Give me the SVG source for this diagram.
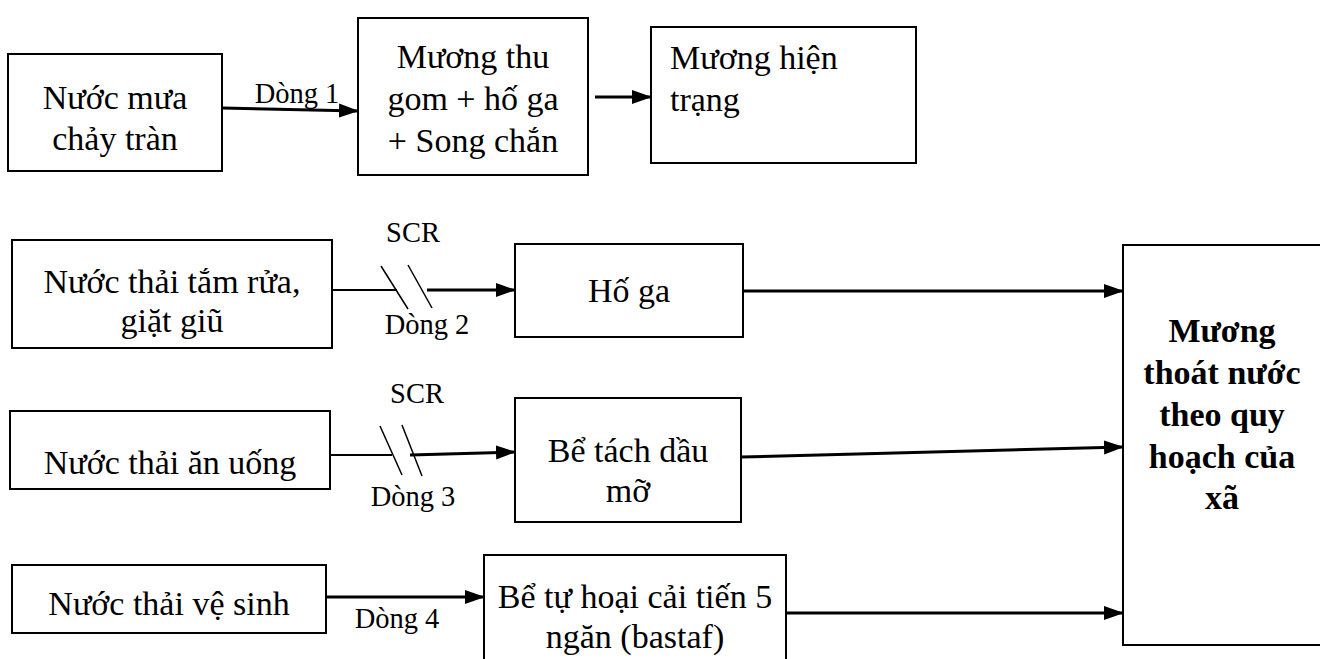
<svg xmlns="http://www.w3.org/2000/svg" width="1320" height="659" viewBox="0 0 1320 659">
<style>
text{font-family:'Liberation Serif','DejaVu Serif',serif;fill:#000}
.t{font-size:34px;text-anchor:middle}
.tl{font-size:34px}
.lb{font-size:28.5px;text-anchor:middle}
.b{font-size:34px;font-weight:bold;text-anchor:middle}
.box{fill:#fff;stroke:#000;stroke-width:2}
.ln{fill:none;stroke:#000;stroke-width:2}
.lt{fill:none;stroke:#000;stroke-width:3}
.sl{fill:none;stroke:#000;stroke-width:1.5}
</style>
<defs>
<marker id="ah" markerUnits="userSpaceOnUse" markerWidth="20" markerHeight="16" refX="19" refY="7" orient="auto" viewBox="0 0 20 14">
<path d="M0,0 L20,7 L0,14 z" fill="#000"/>
</marker>
</defs>
<rect width="1320" height="659" fill="#fff"/>

<g id="n-nuoc-mua">
<rect class="box" x="8" y="54" width="214" height="117"/>
<text class="t" x="115" y="109">Nước mưa</text>
<text class="t" x="115" y="150">chảy tràn</text>
</g>
<g id="n-muong-thu-gom">
<rect class="box" x="358" y="18" width="230" height="157"/>
<text class="t" x="473" y="68">Mương thu</text>
<text class="t" x="473" y="110">gom + hố ga</text>
<text class="t" x="473" y="152">+ Song chắn</text>
</g>
<g id="n-muong-hien-trang">
<rect class="box" x="651" y="27" width="265" height="136"/>
<text class="tl" x="670" y="69">Mương hiện</text>
<text class="tl" x="670" y="111">trạng</text>
</g>

<g id="n-tam-rua">
<rect class="box" x="12" y="240" width="320" height="108"/>
<text class="t" x="172" y="293">Nước thải tắm rửa,</text>
<text class="t" x="172" y="332">giặt giũ</text>
</g>
<g id="n-ho-ga">
<rect class="box" x="515" y="244" width="228" height="93"/>
<text class="t" x="629" y="302">Hố ga</text>
</g>

<g id="n-an-uong">
<rect class="box" x="10" y="411" width="320" height="78"/>
<text class="t" x="170" y="474">Nước thải ăn uống</text>
</g>
<g id="n-tach-dau">
<rect class="box" x="515" y="398" width="226" height="124"/>
<text class="t" x="628" y="462">Bể tách dầu</text>
<text class="t" x="628" y="502">mỡ</text>
</g>

<g id="n-ve-sinh">
<rect class="box" x="12" y="565" width="314" height="68"/>
<text class="t" x="169" y="615">Nước thải vệ sinh</text>
</g>
<g id="n-tu-hoai">
<rect class="box" x="484" y="555" width="302" height="112"/>
<text class="t" x="635" y="608">Bể tự hoại cải tiến 5</text>
<text class="t" x="635" y="648">ngăn (bastaf)</text>
</g>

<g id="n-muong-thoat-nuoc">
<rect class="box" x="1123" y="245" width="205" height="400"/>
<text class="b" x="1222" y="342">Mương</text>
<text class="b" x="1222" y="384">thoát nước</text>
<text class="b" x="1222" y="426">theo quy</text>
<text class="b" x="1222" y="468">hoạch của</text>
<text class="b" x="1222" y="509">xã</text>
</g>

<g id="connectors">
<line class="lt" x1="222" y1="108" x2="358" y2="111" marker-end="url(#ah)"/>
<text class="lb" x="297" y="103">Dòng 1</text>
<line class="lt" x1="595" y1="97" x2="651" y2="97" marker-end="url(#ah)"/>

<line class="ln" x1="332" y1="290" x2="397" y2="290"/>
<line class="lt" x1="427" y1="290" x2="515" y2="290" marker-end="url(#ah)"/>
<line class="sl" x1="381" y1="266" x2="408" y2="309"/>
<line class="sl" x1="408" y1="265" x2="432" y2="308"/>
<text class="lb" x="413" y="242">SCR</text>
<text class="lb" x="427" y="334">Dòng 2</text>
<line class="lt" x1="743" y1="291" x2="1123" y2="291" marker-end="url(#ah)"/>

<line class="ln" x1="330" y1="455" x2="392" y2="455"/>
<line class="lt" x1="410" y1="455" x2="515" y2="452" marker-end="url(#ah)"/>
<line class="sl" x1="380" y1="426" x2="402" y2="475"/>
<line class="sl" x1="402" y1="425" x2="422" y2="476"/>
<text class="lb" x="417" y="403">SCR</text>
<text class="lb" x="413" y="506">Dòng 3</text>
<line class="lt" x1="741" y1="457" x2="1123" y2="447" marker-end="url(#ah)"/>

<line class="lt" x1="326" y1="597" x2="484" y2="597" marker-end="url(#ah)"/>
<text class="lb" x="397" y="628">Dòng 4</text>
<line class="lt" x1="786" y1="613" x2="1123" y2="613" marker-end="url(#ah)"/>
</g>
</svg>
